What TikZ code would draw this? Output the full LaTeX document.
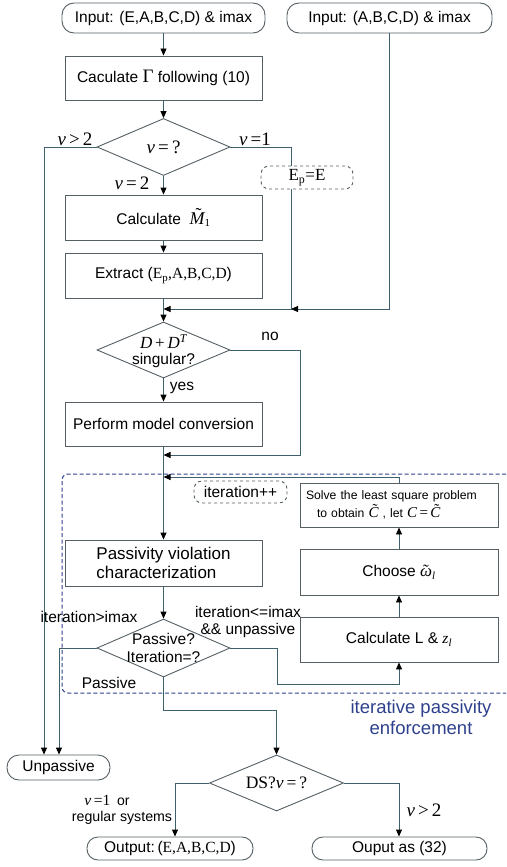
\documentclass[tikz,border=0pt]{standalone}
\usepackage{fontspec}
\setmainfont{Liberation Sans}
\newfontfamily\tms{Liberation Serif}
\newcommand{\mi}[1]{{\tms\itshape #1}}
\newcommand{\mr}[1]{{\tms #1}}
\newcommand{\tld}[3]{\makebox[0pt][l]{\hspace*{#2}\raisebox{#3}{\tms ˜}}#1}
\usetikzlibrary{shapes.geometric,arrows.meta}
\definecolor{ln}{RGB}{62,96,108}
\definecolor{bx}{RGB}{85,95,100}
\definecolor{enf}{RGB}{45,65,140}
\begin{document}
\begin{tikzpicture}[x=1pt,y=-1pt,
  font=\fontsize{15.5}{18}\selectfont,
  box/.style={draw=bx,line width=0.9pt,fill=white,inner sep=0pt,minimum width=197pt,minimum height=44pt,align=center},
  term/.style={draw=bx,line width=0.9pt,rounded corners=12pt,fill=white,inner sep=0pt,minimum height=30pt},
  dia/.style={draw=bx,line width=0.9pt,diamond,inner sep=0pt,minimum width=133pt,minimum height=57pt},
  dbox/.style={draw=bx,dashed,line width=0.9pt,rounded corners=8pt,fill=white,inner sep=0pt},
  conn/.style={draw=ln,line width=0.9pt},
  arr/.style={conn,-{Triangle[length=7pt,width=6pt,color=black]}},
  lbl/.style={inner sep=0pt},
  mlbl/.style={inner sep=0pt,font=\fontsize{19}{21}\selectfont},
]
\useasboundingbox (0,0) rectangle (506,867);
% enforcement region
\draw[enf,line width=1pt,dash pattern=on 4pt off 2.5pt,rounded corners=6pt] (506,474) -- (62,474) -- (62,693) -- (506,693);

% nodes
\node[term,minimum width=203pt] (in1) at (163.5,18) {Input: (E,A,B,C,D) \& imax};
\node[term,minimum width=205pt] (in2) at (389.5,18) {Input: (A,B,C,D) \& imax};
\node[box] (gam) at (163.5,78) {Caculate {\fontsize{19}{19}\selectfont\mr{Γ}} following (10)};
\node[dia] (d1) at (163.5,147) {};
\node[mlbl] (d1t) at (d1) {\mi{ν}\,\mr{=}\,\mr{?}};
\node[box,minimum height=45pt] (m1) at (163.5,217.5) {Calculate~~{\fontsize{18}{18}\selectfont\tld{\mi{M}}{6pt}{3.5pt}}\textsubscript{\mr{1}}};
\node[box,minimum height=45pt] (ext) at (163.5,275.5) {Extract ({\tms E\textsubscript{p},A,B,C,D})};
\node[dia,minimum height=56pt] (d2) at (163.5,350) {};
\node[lbl,align=center] (d2t) at (163.5,351) {{\fontsize{17}{17}\selectfont\mi{D}\,\mr{+}\,\mi{D}\textsuperscript{\mi{T}}}\\[-2pt]singular?};
\node[box] (perf) at (163.5,424) {Perform model conversion};
\node[box,minimum height=46pt,align=left,font=\fontsize{17}{19}\selectfont] (pas) at (163.5,563) {Passivity violation\\characterization};
\node[box,minimum width=198pt,text width=186pt,align=left,font=\fontsize{12.2}{18}\selectfont] (solve) at (399,505) {Solve the least square problem\\\hspace*{11pt}to obtain {\fontsize{15}{15}\selectfont\tld{\mi{C}}{4pt}{3pt}} , let {\fontsize{15}{15}\selectfont\mi{C}\,\mr{=}\,\tld{\mi{C}}{4pt}{3pt}}};
\node[box,minimum width=198pt,minimum height=46pt] (choose) at (399,572) {Choose {\fontsize{17}{17}\selectfont\tld{\mi{ω}}{3pt}{0pt}}\textsubscript{\mi{l}}};
\node[box,minimum width=198pt,minimum height=45pt] (calcL) at (399,639.5) {Calculate L \& \mi{z}\textsubscript{\mi{l}}};
\node[dia,minimum height=58pt] (d3) at (163.5,648) {};
\node[lbl,align=center] (d3t) at (163.5,648) {Passive?\\Iteration=?};
\node[term,minimum width=103pt,minimum height=25pt] (unp) at (58.5,767.5) {Unpassive};
\node[dia,minimum width=134pt,minimum height=56pt] (d4) at (276.5,783) {};
\node[mlbl,font=\fontsize{17.5}{19}\selectfont] (d4t) at (d4) {\mr{DS?}\mi{ν}\,\mr{=}\,\mr{?}};
\node[term,minimum width=166pt,minimum height=23pt,rounded corners=11pt] (out1) at (170,848.5) {Output:\,({\tms E,A,B,C,D})};
\node[term,minimum width=175pt,minimum height=23pt,rounded corners=11pt] (out2) at (399.5,848.5) {Ouput as (32)};

% coordinates
\coordinate (j1) at (163.5,309);
\coordinate (j2) at (291,309);
\coordinate (n1) at (300,455);
\coordinate (j3) at (163.5,455);
\coordinate (j4) at (163.5,477);
\coordinate (c1) at (277,684);
\coordinate (c2) at (163.5,710);

% connectors
\draw[arr] (in1) -- (gam);
\draw[arr] (gam) -- (d1);
\draw[arr] (d1.south) -- (m1);
\draw[arr] (m1) -- (ext);
\draw[conn] (ext.south) -- (j1);
\draw[arr] (j1) -- (d2.north);
\draw[arr] (in2.south) |- (j2);
\draw[arr] (d1.east) -| (j2) -- (j1);
\draw[arr] (d2.south) -- (perf);
\draw[arr] (d2.east) -| (n1) -- (j3);
\draw[arr] (perf) -- (pas);
\draw[arr] (solve.north) |- (j4);
\draw[arr] (pas) -- (d3.north);
\draw[arr] (calcL) -- (choose);
\draw[arr] (choose) -- (solve);
\draw[arr] (d3.east) -| (c1) -| (calcL.south);
\draw[arr] (d3.south) -- (c2) -| (d4.north);
\draw[arr] (d1.west) -| ([xshift=-14.5pt]unp.north);
\draw[arr] (d3.west) -| ([xshift=0.5pt]unp.north);
\draw[arr] (d4.west) -| ([xshift=5pt]out1.north);
\draw[arr] (d4.east) -| ([xshift=-0.5pt]out2.north);

% dashed note boxes
\node[dbox,minimum width=92pt,minimum height=23pt,font=\fontsize{17}{19}\selectfont] (ep) at (307,177.5) {\tms E\textsubscript{p}=E};
\node[dbox,minimum width=93pt,minimum height=22pt] (itp) at (240.5,492) {iteration++};

% labels
\node[mlbl] (l1) at (75,139) {\mi{ν}\,\mr{>}\,\mr{2}};
\node[mlbl] (l2) at (255,139) {\mi{ν}\,\mr{=}\mr{1}};
\node[mlbl] (l3) at (132,183) {\mi{ν}\,\mr{=}\,\mr{2}};
\node[lbl] (l4) at (270,336) {no};
\node[lbl] (l5) at (182,388) {yes};
\node[lbl] (l6) at (89,617) {iteration>imax};
\node[lbl,align=center] (l7) at (248,621.5) {iteration<=imax\\[-1pt]\&\& unpassive};
\node[lbl] (l8) at (109,683) {Passive};
\node[lbl,align=center,text=enf,font=\fontsize{18.5}{21}\selectfont] (l9) at (421,717) {iterative passivity\\enforcement};
\node[lbl] (l10) at (107,800) {\mi{ν}\,\mr{=}\mr{1}\, {\fontsize{14}{16}\selectfont or}};
\node[lbl,font=\fontsize{14.2}{16}\selectfont] (l11) at (122,818) {regular systems};
\node[mlbl] (l12) at (424,810) {\mi{ν}\,\mr{>}\,\mr{2}};
\end{tikzpicture}
\end{document}
